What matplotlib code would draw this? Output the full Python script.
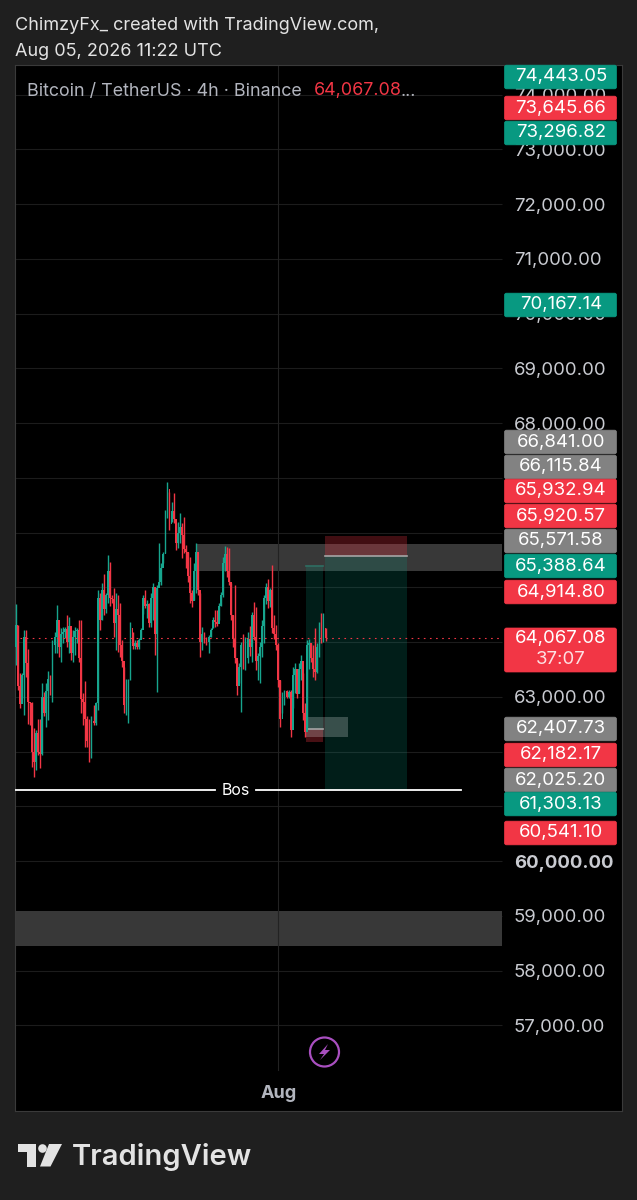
import matplotlib
matplotlib.use('Agg')
import matplotlib.pyplot as plt
from matplotlib.patches import Rectangle, FancyBboxPatch, Circle, Polygon

plt.rcParams['font.family'] = ['Inter', 'DejaVu Sans']

first_open = 63900
highs = [64690, 64310, 63430, 63430, 64220, 64220, 63880, 62910, 62910, 62430,
         62390, 62600, 62600, 63245, 63090, 63245, 63470, 63400, 64040, 64190,
         64680, 64280, 64250, 64280, 64280, 64490, 64460, 64220, 64220, 64280,
         64250, 64400, 64400, 63060, 63280, 62640, 62600, 62640, 62850, 62910,
         64950, 64890, 65070, 65250, 64890, 65590, 65470, 64860, 64980, 64890,
         64860, 64710, 64040, 63550, 63330, 63330, 64360, 64190, 64030, 64030,
         64070, 64250, 64860, 64950, 64770, 64710, 64890, 65070, 64950, 65040,
         65800, 65440, 65650, 66410, 66930, 66745, 66560, 66715, 66170, 66200,
         66350, 66170, 66290, 65770, 65640, 65560, 64950, 65440, 65800, 65315,
         64890, 64280, 64190, 64100, 64130, 64250, 64460, 64585, 64585, 64710,
         64920, 65560, 65750, 65740, 65710, 65070, 64500, 65040, 63670, 63610,
         64000, 64150, 64100, 64190, 64300, 64550, 64730, 64645, 63800, 64000,
         64400, 64860, 65080, 65160, 64980, 65410, 64500, 64310, 63975, 63305,
         63090, 63125, 63125, 63125, 63125, 63550, 63610, 63490, 63610, 63760,
         63430, 62880, 64035, 64050, 63975, 63945, 64250, 63975, 64370, 64525,
         64525, 64250]
lows = [63580, 63130, 62790, 62970, 62660, 63370, 62510, 62485, 61725, 61540,
        61660, 61935, 61690, 61935, 62640, 62450, 62575, 63030, 62910, 63795,
        63795, 63730, 63640, 63975, 64070, 63915, 63795, 63670, 63640, 63770,
        63975, 63640, 62700, 62485, 62090, 62090, 61815, 61875, 62485, 62485,
        62760, 64220, 64400, 64500, 64525, 64710, 64650, 64710, 64100, 63855,
        63825, 63730, 63550, 62700, 62670, 62515, 63305, 63880, 63880, 63880,
        63880, 64070, 64520, 64620, 64430, 64280, 64280, 64400, 63760, 63090,
        65040, 65040, 65440, 65620, 66260, 66045, 66200, 66170, 65680, 65720,
        65800, 65530, 65620, 65345, 65100, 64710, 64645, 64770, 64890, 64860,
        63730, 63855, 63975, 63945, 63795, 64100, 64250, 64280, 64300, 64400,
        64650, 64830, 65300, 65195, 65040, 64400, 63900, 63610, 63030, 63245,
        62730, 63500, 63490, 63610, 63750, 63640, 64035, 63490, 63300, 63245,
        63730, 63975, 64700, 64620, 64645, 64160, 64050, 63855, 63185, 62450,
        62700, 62850, 62970, 62970, 62270, 62790, 63060, 62970, 63060, 63305,
        62580, 62270, 62450, 63500, 63640, 63370, 63305, 63430, 63730, 63975,
        64000, 64010]
closes = [64310, 63200, 62860, 63400, 64100, 63620, 62900, 62880, 62000, 61800,
          62340, 62000, 61950, 63000, 62700, 63100, 63330, 63100, 63950, 64100,
          64400, 63900, 64150, 64190, 64240, 64000, 64300, 63800, 64100, 64200,
          64220, 63700, 62950, 62900, 62600, 62200, 62050, 62550, 62520, 62880,
          64800, 64400, 64950, 64600, 64850, 65300, 64800, 64780, 64350, 64600,
          64500, 63950, 63650, 62850, 63250, 63300, 64250, 63920, 63990, 63900,
          64040, 64220, 64800, 64650, 64700, 64350, 64800, 65000, 64150, 64980,
          65100, 65350, 65600, 66350, 66800, 66150, 66400, 66250, 65800, 66000,
          66100, 65950, 65700, 65650, 65200, 64900, 64750, 65300, 65650, 64950,
          64000, 64150, 64020, 64000, 64090, 64220, 64400, 64360, 64320, 64650,
          64850, 65450, 65600, 65300, 65100, 64500, 64050, 63700, 63200, 63550,
          63950, 63650, 63700, 64050, 63900, 64500, 64100, 63650, 63750, 63900,
          64300, 64800, 65000, 64750, 64950, 64250, 64150, 63950, 63300, 62600,
          63000, 63100, 63000, 63080, 62400, 63400, 63500, 63050, 63500, 63650,
          62700, 62350, 63950, 63980, 63700, 63500, 63450, 63900, 64300, 64100,
          64250, 64067.08]
opens = [first_open] + closes[:-1]

tick_prices = [74000, 73000, 72000, 71000, 70000, 69000, 68000, 67000, 66000, 65000,
               64000, 63000, 62000, 61000, 60000, 59000, 58000, 57000]
shown_ticks = [74000, 73000, 72000, 71000, 70000, 69000, 68000, 63000, 60000, 59000, 58000, 57000]

last_price = 64067.08
stop_price, entry_price, target_price = 65932.94, 65571.58, 61303.13
left_target, left_entry, left_stop = 65388.64, 62407.73, 62182.17
bos_price = 61297

label_values = [74443.05, 73645.66, 73296.82, 70167.14, 66841.00, 66115.84, 65932.94, 65920.57,
                65571.58, 65388.64, 64914.80, 62407.73, 62182.17, 62025.20, 61303.13, 60541.10]
label_kinds = ['g', 'r', 'g', 'g', 'n', 'n', 'r', 'r', 'n', 'g', 'r', 'n', 'r', 'n', 'g', 'r']

RED = '#f23645'
GREEN = '#089981'
CANDLE_GREEN = '#17a58e'
NEUTRAL = '#828282'
TEXT = '#c9cbd1'

fig = plt.figure(figsize=(6.37, 12), dpi=100, facecolor='#1f1f1f')

# chart panel, placed in pixels
ax = fig.add_axes([15 / 637, 1 - 1111 / 1200, 607 / 637, 1046 / 1200], facecolor='black')
ax.set_xlim(-0.25, 295.4)
ax.set_ylim(55434, 74539)
ax.set_xticks([])
ax.yaxis.tick_right()
ax.set_yticks(shown_ticks)
ax.set_yticklabels([f'{t:,.2f}' for t in shown_ticks], fontsize=13.4, color=TEXT)
ax.tick_params(axis='y', length=0, pad=-78)
for lab, t in zip(ax.get_yticklabels(), shown_ticks):
    lab.set_ha('left')
    if t == 60000:
        lab.set_fontweight('bold')
for s in ax.spines.values():
    s.set_color('#3a3a3a')
    s.set_linewidth(0.8)

axis_edge = 237  # bar index where the price scale starts
ax.hlines(tick_prices, -1, axis_edge, color='#1c1c1c', lw=0.8, zorder=0)
ax.plot([127.9, 127.9], [56183, 74539], color='#222222', lw=0.8, zorder=1.5)

# zones
ax.add_patch(Rectangle((87.9, 65297), axis_edge - 87.9, 493, fc='#383838', ec='none', zorder=1))
ax.add_patch(Rectangle((-1, 58447), axis_edge + 1, 640, fc='#383838', ec='none', zorder=1))
ax.add_patch(Rectangle((141.5, 62265), 20.4, 365, fc='#ffffff', alpha=0.22, ec='none', zorder=3))

# position tools
ax.add_patch(Rectangle((150.8, target_price), 39.9, entry_price - target_price, fc=GREEN, alpha=0.2, ec='none', zorder=2))
ax.add_patch(Rectangle((150.8, entry_price), 39.9, stop_price - entry_price, fc=RED, alpha=0.27, ec='none', zorder=2))
ax.plot([150.8, 190.7], [entry_price, entry_price], color='#a5a5a5', lw=1.2, zorder=3)
ax.add_patch(Rectangle((141.5, left_entry), 8.3, left_target - left_entry, fc=GREEN, alpha=0.2, ec='none', zorder=2))
ax.add_patch(Rectangle((141.5, left_stop), 8.3, left_entry - left_stop, fc=RED, alpha=0.3, ec='none', zorder=2))
ax.plot([141.5, 149.8], [left_entry, left_entry], color='#a5a5a5', lw=1.2, zorder=3)
ax.plot([141.5, 149.8], [left_target, left_target], color='#2f6f63', lw=1.2, zorder=3)

# candles
idx = list(range(len(closes)))
colors = [CANDLE_GREEN if c >= o else RED for o, c in zip(opens, closes)]
ax.vlines(idx, lows, highs, color=colors, lw=1.0, zorder=4)
ax.bar(idx, [abs(c - o) for o, c in zip(opens, closes)], bottom=[min(o, c) for o, c in zip(opens, closes)],
       width=0.85, color=colors, linewidth=0, zorder=4)

ax.plot([2, axis_edge], [last_price, last_price], color=RED, lw=0.8, ls=(0, (1.5, 4)), zorder=5)

# Bos line
ax.plot([-1, 97.2], [bos_price, bos_price], color='white', lw=1.3, zorder=6)
ax.plot([117.1, 217], [bos_price, bos_price], color='white', lw=1.3, zorder=6)
ax.text(107.2, bos_price, 'Bos', color='white', fontsize=11.5, ha='center', va='center', zorder=6)

# overlay in pixels for price labels, header and logo
ov = fig.add_axes([0, 0, 1, 1])
ov.set_xlim(0, 637)
ov.set_ylim(1200, 0)
ov.axis('off')
ov.patch.set_alpha(0)

ov.text(15, 26, 'ChimzyFx_ created with TradingView.com,', color='#e3e3e3', fontsize=13, va='center')
ov.text(15, 51, 'Aug 05, 2026 11:22 UTC', color='#e3e3e3', fontsize=13, va='center')

ov.text(27, 91, 'Bitcoin / TetherUS · 4h · Binance', color='#b2b5be', fontsize=12.9, va='center')
ov.text(314, 91, '64,067.08', color=RED, fontsize=12.9, va='center')
ov.text(401, 91, '...', color='#b2b5be', fontsize=12.9, va='center')


def price_tag(yc, txt, col, h=24.5):
    ov.add_patch(FancyBboxPatch((504.5, yc - h / 2 + 0.4), 112, h - 0.8, boxstyle='round,pad=0,rounding_size=2',
                                fc=col, ec=col, lw=0.5))
    ov.text(561, yc, txt, color='white', fontsize=13.4, ha='center', va='center')


kind_color = {'g': GREEN, 'r': RED, 'n': NEUTRAL}
label_y = [77, 108, 133, 305, 442, 467, 491, 516, 541, 566, 592, 729, 755, 780, 804, 833]
for yc, v, k in zip(label_y, label_values, label_kinds):
    price_tag(yc, f'{v:,.2f}', kind_color[k])

ov.add_patch(FancyBboxPatch((504.5, 628), 112, 44, boxstyle='round,pad=0,rounding_size=2', fc=RED, ec=RED, lw=0.5))
ov.text(561, 639, f'{last_price:,.2f}', color='white', fontsize=13.4, ha='center', va='center')
ov.text(561, 660, '37:07', color='white', fontsize=13.4, ha='center', va='center', alpha=0.85)

ov.text(279, 1093, 'Aug', color='#b2b5be', fontsize=13, fontweight='bold', ha='center', va='center')

# lightning icon
ov.add_patch(Circle((324.5, 1052), 14.5, fc='none', ec='#a94fc0', lw=1.6))
ov.add_patch(Polygon([[328, 1044], [319, 1054], [324, 1054], [320, 1060], [330, 1050], [325, 1050]], fc='#a94fc0', ec='none'))

# TradingView logo
logo = '#e3e3e3'
ov.add_patch(Polygon([[17.5, 1144], [36, 1144], [36, 1166.5], [27, 1166.5], [27, 1152], [17.5, 1152]], fc=logo, ec='none'))
ov.add_patch(Circle((42.5, 1148.5), 4.3, fc=logo, ec='none'))
ov.add_patch(Polygon([[49, 1144], [62, 1144], [50.5, 1166.5], [40, 1166.5]], fc=logo, ec='none'))
ov.text(71.5, 1157, 'TradingView', color=logo, fontsize=21, fontweight='semibold', va='center')

fig.savefig('out.png', dpi=100, facecolor=fig.get_facecolor())
